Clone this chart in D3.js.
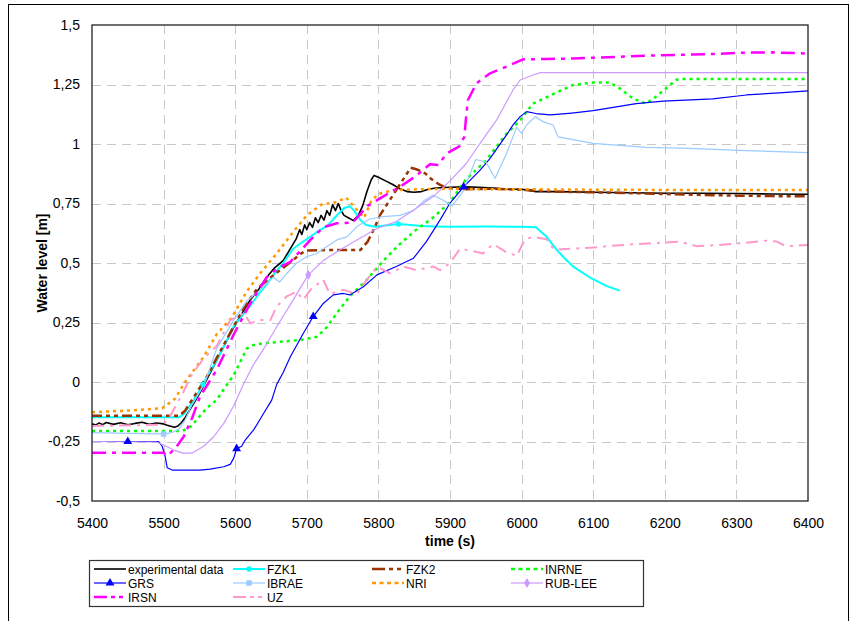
<!DOCTYPE html>
<html>
<head>
<meta charset="utf-8">
<script src="https://cdn.jsdelivr.net/npm/d3@7"></script>
<style>
  html, body { margin: 0; padding: 0; background: #fff; }
  svg { display: block; font-family: "Liberation Sans", Arial, sans-serif; }
</style>
</head>
<body>
<svg id="chart" width="858" height="621"></svg>
<script>
// Water level over time: measurement vs. code predictions, [time s, level m]
const experimental = [[5400,-0.175],[5405,-0.181],[5410,-0.172],[5415,-0.179],[5420,-0.17],[5430,-0.178],[5440,-0.171],[5450,-0.18],[5460,-0.174],[5470,-0.169],[5480,-0.178],[5490,-0.172],[5500,-0.176],[5505,-0.182],[5510,-0.186],[5515,-0.19],[5520,-0.185],[5525,-0.17],[5530,-0.15],[5540,-0.1],[5550,-0.05],[5562,0.02],[5574,0.09],[5586,0.16],[5598,0.23],[5610,0.29],[5621,0.345],[5633,0.39],[5644,0.44],[5655,0.48],[5667,0.51],[5675,0.55],[5681,0.58],[5685,0.6],[5690,0.64],[5693,0.62],[5697,0.66],[5700,0.64],[5704,0.67],[5708,0.65],[5712,0.69],[5716,0.67],[5720,0.7],[5724,0.68],[5728,0.72],[5732,0.7],[5736,0.745],[5740,0.72],[5744,0.75],[5748,0.72],[5752,0.7],[5758,0.69],[5765,0.678],[5772,0.7],[5778,0.74],[5784,0.8],[5790,0.85],[5794,0.868],[5800,0.86],[5810,0.845],[5820,0.83],[5830,0.812],[5840,0.8],[5850,0.797],[5860,0.8],[5870,0.81],[5880,0.815],[5900,0.818],[5920,0.82],[5940,0.818],[5960,0.815],[5980,0.81],[6000,0.81],[6020,0.8],[6050,0.8],[6100,0.797],[6150,0.795],[6200,0.793],[6250,0.793],[6300,0.792],[6350,0.79],[6400,0.789]];

const fzk1 = [[5400,-0.148],[5522,-0.148],[5528,-0.135],[5540,-0.085],[5551,-0.034],[5555,-0.01],[5562,0.03],[5574,0.09],[5586,0.16],[5598,0.235],[5610,0.28],[5621,0.32],[5633,0.37],[5644,0.41],[5655,0.455],[5667,0.5],[5681,0.56],[5690,0.58],[5700,0.6],[5714,0.63],[5730,0.66],[5742,0.7],[5752,0.73],[5760,0.739],[5766,0.72],[5775,0.68],[5783,0.66],[5795,0.652],[5810,0.658],[5828,0.664],[5845,0.66],[5860,0.655],[5880,0.653],[5900,0.652],[5950,0.653],[6000,0.652],[6020,0.65],[6035,0.61],[6049,0.555],[6060,0.52],[6072,0.485],[6095,0.44],[6119,0.403],[6137,0.384]];

const fzk2 = [[5400,-0.142],[5522,-0.142],[5530,-0.12],[5545,-0.05],[5560,0.02],[5574,0.1],[5590,0.19],[5610,0.3],[5630,0.39],[5650,0.44],[5667,0.48],[5680,0.51],[5692,0.54],[5700,0.553],[5740,0.555],[5775,0.555],[5785,0.59],[5795,0.65],[5802,0.7],[5815,0.76],[5830,0.83],[5845,0.9],[5852,0.895],[5860,0.885],[5866,0.875],[5873,0.855],[5885,0.83],[5895,0.815],[5920,0.81],[5960,0.812],[6000,0.808],[6040,0.8],[6100,0.797],[6150,0.794],[6200,0.79],[6250,0.786],[6300,0.783],[6350,0.781],[6400,0.78]];

const inrne = [[5400,-0.206],[5525,-0.206],[5535,-0.195],[5546,-0.16],[5560,-0.11],[5574,-0.076],[5588,-0.013],[5598,0.03],[5608,0.09],[5616,0.14],[5625,0.155],[5640,0.163],[5667,0.17],[5690,0.176],[5714,0.19],[5728,0.23],[5742,0.29],[5760,0.36],[5784,0.43],[5807,0.51],[5830,0.58],[5853,0.64],[5876,0.69],[5900,0.755],[5922,0.85],[5950,0.93],[5978,1.04],[5998,1.1],[6016,1.17],[6044,1.21],[6072,1.248],[6100,1.258],[6123,1.258],[6137,1.234],[6156,1.19],[6174,1.17],[6188,1.2],[6202,1.234],[6216,1.27],[6225,1.273],[6400,1.273]];

const grs = [[5400,-0.25],[5450,-0.25],[5493,-0.25],[5498,-0.27],[5502,-0.31],[5505,-0.36],[5512,-0.37],[5551,-0.37],[5565,-0.366],[5584,-0.356],[5593,-0.346],[5598,-0.32],[5602,-0.28],[5609,-0.27],[5614,-0.244],[5626,-0.2],[5640,-0.13],[5651,-0.076],[5658,-0.01],[5667,0.04],[5677,0.106],[5695,0.204],[5709,0.275],[5723,0.33],[5737,0.366],[5751,0.372],[5760,0.366],[5779,0.4],[5798,0.45],[5825,0.485],[5849,0.52],[5867,0.59],[5886,0.68],[5900,0.752],[5919,0.82],[5942,0.89],[5956,0.94],[5979,1.038],[5988,1.08],[5998,1.115],[6007,1.136],[6020,1.128],[6040,1.122],[6070,1.13],[6100,1.14],[6128,1.154],[6160,1.17],[6198,1.18],[6267,1.19],[6314,1.206],[6360,1.215],[6400,1.223]];

const ibrae = [[5400,-0.213],[5450,-0.216],[5500,-0.218],[5510,-0.214],[5521,-0.2],[5530,-0.16],[5539,-0.1],[5549,-0.05],[5558,0.0],[5574,0.14],[5598,0.26],[5616,0.34],[5635,0.387],[5653,0.44],[5662,0.42],[5672,0.456],[5686,0.5],[5700,0.527],[5714,0.54],[5728,0.569],[5742,0.597],[5756,0.61],[5770,0.653],[5788,0.685],[5807,0.695],[5830,0.7],[5849,0.72],[5863,0.76],[5876,0.785],[5890,0.765],[5903,0.74],[5918,0.8],[5936,0.935],[5950,0.925],[5963,0.856],[5979,0.96],[5993,1.07],[6000,1.045],[6007,1.08],[6019,1.115],[6030,1.094],[6044,1.08],[6051,1.03],[6100,1.003],[6174,0.986],[6235,0.982],[6314,0.972],[6400,0.964]];

const nri = [[5400,-0.127],[5450,-0.12],[5498,-0.11],[5516,-0.07],[5530,0.0],[5556,0.106],[5574,0.2],[5595,0.27],[5616,0.38],[5635,0.457],[5658,0.54],[5681,0.63],[5700,0.7],[5720,0.745],[5740,0.755],[5755,0.775],[5768,0.73],[5780,0.69],[5790,0.76],[5800,0.79],[5820,0.806],[5860,0.81],[5900,0.812],[5950,0.81],[6000,0.81],[6100,0.808],[6200,0.807],[6300,0.807],[6400,0.807]];

const rubLee = [[5400,-0.25],[5490,-0.252],[5500,-0.265],[5514,-0.286],[5528,-0.3],[5540,-0.298],[5556,-0.27],[5570,-0.23],[5584,-0.174],[5598,-0.1],[5612,-0.006],[5625,0.07],[5640,0.14],[5658,0.232],[5681,0.345],[5702,0.45],[5723,0.51],[5746,0.555],[5770,0.597],[5798,0.645],[5825,0.674],[5853,0.73],[5877,0.78],[5900,0.845],[5923,0.919],[5942,1.003],[5965,1.1],[5988,1.227],[5998,1.269],[6016,1.29],[6026,1.3],[6400,1.3]];

const irsn = [[5400,-0.297],[5500,-0.297],[5505,-0.31],[5516,-0.28],[5528,-0.23],[5540,-0.15],[5551,-0.06],[5574,0.05],[5598,0.2],[5621,0.33],[5644,0.44],[5660,0.48],[5677,0.505],[5705,0.597],[5723,0.65],[5742,0.667],[5764,0.67],[5785,0.74],[5807,0.78],[5830,0.82],[5850,0.86],[5872,0.915],[5884,0.912],[5895,0.96],[5913,0.99],[5920,1.03],[5923,1.13],[5925,1.185],[5937,1.255],[5956,1.297],[5979,1.325],[6002,1.356],[6035,1.357],[6081,1.36],[6174,1.371],[6267,1.378],[6314,1.384],[6350,1.385],[6400,1.38]];

const uz = [[5400,-0.185],[5491,-0.18],[5505,-0.165],[5519,-0.09],[5528,-0.04],[5537,0.02],[5556,0.1],[5574,0.15],[5593,0.26],[5612,0.29],[5621,0.247],[5635,0.26],[5649,0.26],[5658,0.317],[5672,0.36],[5686,0.38],[5695,0.345],[5705,0.387],[5723,0.43],[5732,0.37],[5751,0.387],[5770,0.37],[5784,0.43],[5798,0.485],[5816,0.457],[5835,0.485],[5853,0.47],[5877,0.485],[5886,0.47],[5900,0.5],[5914,0.56],[5932,0.55],[5946,0.54],[5960,0.58],[5979,0.545],[5993,0.53],[6005,0.6],[6017,0.61],[6035,0.6],[6045,0.556],[6072,0.56],[6100,0.565],[6137,0.575],[6165,0.58],[6221,0.59],[6245,0.57],[6296,0.58],[6342,0.594],[6356,0.59],[6370,0.57],[6400,0.576]];

// Times at which each series carries a marker symbol
const fzk1Markers = [5555, 5828];
const grsMarkers = [5450, 5602, 5709, 5919];
const ibraeMarkers = [5500];
const rubLeeMarkers = [5702];

const xTicks = [5400, 5500, 5600, 5700, 5800, 5900, 6000, 6100, 6200, 6300, 6400];
const yTicks = [-0.5, -0.25, 0, 0.25, 0.5, 0.75, 1, 1.25, 1.5];

const series = [
  { name: "experimental data", data: experimental, color: "#000000", width: 1.6, dash: null, marker: null, markers: [] },
  { name: "FZK1", data: fzk1, color: "#00FFFF", width: 2, dash: null, marker: "circle", markers: fzk1Markers },
  { name: "FZK2", data: fzk2, color: "#993300", width: 2.5, dash: "10,4,4,4,4,4", marker: null, markers: [] },
  { name: "INRNE", data: inrne, color: "#00FF00", width: 2.5, dash: "3,4", marker: null, markers: [] },
  { name: "GRS", data: grs, color: "#0000FF", width: 1.2, dash: null, marker: "triangle", markers: grsMarkers },
  { name: "IBRAE", data: ibrae, color: "#99CCFF", width: 1.2, dash: null, marker: "square", markers: ibraeMarkers },
  { name: "NRI", data: nri, color: "#FF9900", width: 2.5, dash: "3,4", marker: null, markers: [] },
  { name: "RUB-LEE", data: rubLee, color: "#CC99FF", width: 1.2, dash: null, marker: "diamond", markers: rubLeeMarkers },
  { name: "IRSN", data: irsn, color: "#FF00FF", width: 2.5, dash: "14,6,4,6", marker: null, markers: [] },
  { name: "UZ", data: uz, color: "#FF99CC", width: 2, dash: "12,6,3,6", marker: null, markers: [] }
];

const svg = d3.select("#chart");
const plot = { left: 92, right: 808, top: 25, bottom: 501 };

const x = d3.scaleLinear().domain([5400, 6400]).range([plot.left, plot.right]);
const y = d3.scaleLinear().domain([-0.5, 1.5]).range([plot.bottom, plot.top]);

// outer chart frame
svg.append("rect").attr("x", 8.5).attr("y", 4.5).attr("width", 840).attr("height", 700)
  .attr("fill", "#fff").attr("stroke", "#000").attr("stroke-width", 1);

// gridlines
const grid = svg.append("g").attr("stroke", "#c8c8c8").attr("stroke-width", 1).attr("stroke-dasharray", "9,6");
grid.selectAll("line.h").data(yTicks.slice(1, -1)).enter().append("line")
  .attr("x1", plot.left).attr("x2", plot.right)
  .attr("y1", d => Math.round(y(d)) + 0.5).attr("y2", d => Math.round(y(d)) + 0.5);
grid.selectAll("line.v").data(xTicks.slice(1, -1)).enter().append("line")
  .attr("y1", plot.top).attr("y2", plot.bottom)
  .attr("x1", d => Math.round(x(d)) + 0.5).attr("x2", d => Math.round(x(d)) + 0.5);

// axes
const fmt = d => String(d).replace(".", ",");
const xAxis = svg.append("g").attr("transform", `translate(0,${plot.bottom})`)
  .call(d3.axisBottom(x).tickValues(xTicks).tickSize(0).tickPadding(17).tickFormat(d => d));
const yAxis = svg.append("g").attr("transform", `translate(${plot.left},0)`)
  .call(d3.axisLeft(y).tickValues(yTicks).tickSize(0).tickPadding(12).tickFormat(fmt));
[xAxis, yAxis].forEach(a => {
  a.select(".domain").remove();
  a.selectAll("text").attr("font-size", 14).attr("fill", "#000")
    .attr("font-family", "'Liberation Sans', Arial, sans-serif");
});

// series lines
const line = d3.line().x(d => x(d[0])).y(d => y(d[1]));
const lines = svg.append("g").attr("fill", "none").attr("stroke-linejoin", "round");
series.forEach(s => {
  lines.append("path").datum(s.data).attr("d", line)
    .attr("stroke", s.color).attr("stroke-width", s.width)
    .attr("stroke-dasharray", s.dash);
});

// marker symbols
const symbolType = { circle: d3.symbolCircle, triangle: d3.symbolTriangle, square: d3.symbolSquare, diamond: d3.symbolDiamond };
const symbolSize = { circle: 22, triangle: 34, square: 30, diamond: 30 };
series.forEach(s => {
  if (!s.marker) return;
  const pts = s.data.filter(d => s.markers.includes(d[0]));
  svg.append("g").selectAll("path").data(pts).enter().append("path")
    .attr("transform", d => `translate(${x(d[0])},${y(d[1])})`)
    .attr("d", d3.symbol(symbolType[s.marker], symbolSize[s.marker]))
    .attr("fill", s.color);
});

// plot frame
svg.append("rect").attr("x", plot.left).attr("y", plot.top)
  .attr("width", plot.right - plot.left).attr("height", plot.bottom - plot.top)
  .attr("fill", "none").attr("stroke", "#222").attr("stroke-width", 1.3);

// axis titles
svg.append("text").attr("x", (plot.left + plot.right) / 2).attr("y", 546)
  .attr("text-anchor", "middle").attr("font-size", 14).attr("font-weight", "bold").text("time (s)");
svg.append("text").attr("transform", `translate(47,${(plot.top + plot.bottom) / 2}) rotate(-90)`)
  .attr("text-anchor", "middle").attr("font-size", 14).attr("font-weight", "bold").text("Water level [m]");

// legend
const legend = svg.append("g");
legend.append("rect").attr("x", 89.5).attr("y", 560.5).attr("width", 554).attr("height", 46)
  .attr("fill", "#fff").attr("stroke", "#333").attr("stroke-width", 1.2);
series.forEach((s, i) => {
  const col = i % 4, row = Math.floor(i / 4);
  const lx = 94 + col * 139, ly = 569 + row * 14;
  const g = legend.append("g").attr("transform", `translate(${lx},${ly})`);
  g.append("line").attr("x1", 0).attr("x2", 32).attr("y1", 0).attr("y2", 0)
    .attr("stroke", s.color).attr("stroke-width", s.width)
    .attr("stroke-dasharray", s.dash ? (s.dash === "3,4" ? "4,3.5" : "13,4,4,4,4,4") : null);
  if (s.marker) {
    g.append("path").attr("transform", "translate(16,0)")
      .attr("d", d3.symbol(symbolType[s.marker], symbolSize[s.marker])).attr("fill", s.color);
  }
  g.append("text").attr("x", 34).attr("y", 4.5).attr("font-size", 12).attr("fill", "#000").text(s.name);
});
</script>
</body>
</html>
